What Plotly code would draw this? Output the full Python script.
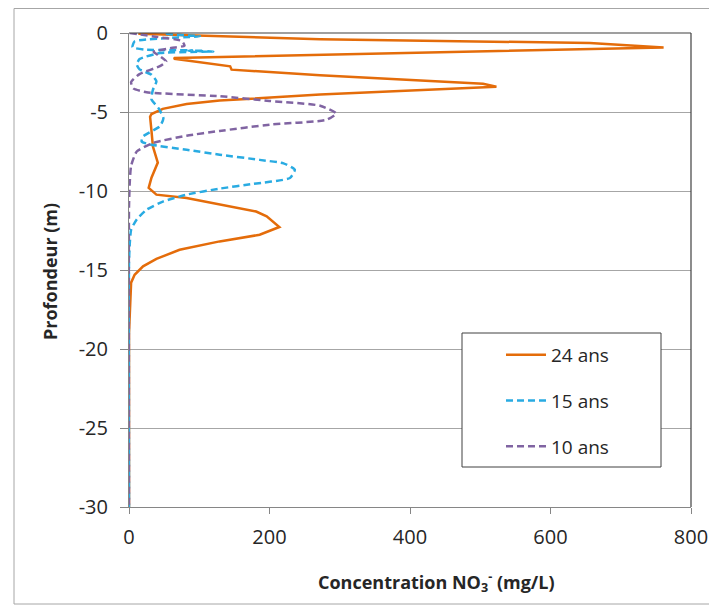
import plotly.graph_objects as go

# ---- data (concentration mg/L vs depth m) ----
depth_24 = [0, -0.05, -0.4, -0.57, -0.63, -0.91, -1.12, -1.37, -1.58, -1.63, -2.11, -2.32, -2.68, -3.21, -3.4,
            -3.9, -4.28, -4.5, -4.8, -5.13, -5.3, -6.2, -7.18, -8.2, -9.16, -9.8, -10.23, -10.44, -10.87, -11.3,
            -11.6, -12.28, -12.77, -13.19, -13.72, -14.3, -14.77, -15.3, -15.8, -17.0, -18.0, -19.0, -30]
conc_24 = [15, 15, 272, 556, 656, 761, 556, 272, 65, 64, 144, 146, 272, 504, 523,
           272, 129, 82, 48, 32, 30, 32, 34, 41, 32, 28, 39, 82, 129, 181,
           196, 214, 186, 129, 72, 39, 20, 8, 3, 1.5, 0.5, 0, 0]

depth_15 = [0, -0.06, -0.2, -0.53, -0.9, -1.05, -1.08, -1.1, -1.12, -1.13, -1.15, -1.17, -1.27, -1.65, -2.0,
            -2.3, -2.64, -3.06, -3.6, -4.2, -4.75, -5.4, -5.9, -6.55, -6.87, -7.07, -7.39, -7.7, -8.03, -8.25,
            -8.65, -9.18, -9.55, -9.85, -10.23, -10.66, -11.18, -11.8, -12.45, -13.4, -14.5, -30]
conc_15 = [54, 54, 101, 8, 5, 22, 60, 90, 85, 105, 98, 120, 44, 15, 11,
           15, 32, 39, 34, 32, 42, 49, 44, 20, 18, 32, 82, 129, 186, 220,
           236, 229, 177, 129, 82, 49, 25, 11, 3, 1, 0, 0]

depth_10 = [0, -0.25, -0.5, -0.8, -0.95, -1.2, -1.5, -1.8, -2.1, -2.6, -3.1, -3.5, -3.75, -4.0, -4.3,
            -4.6, -5.1, -5.5, -5.8, -6.2, -6.5, -6.95, -7.5, -8.4, -9.5, -11.0, -30]
conc_10 = [1, 40, 75, 79, 60, 35, 45, 53, 44, 15, 3, 6, 25, 129, 200,
           272, 295, 281, 200, 129, 82, 35, 11, 3, 1, 0, 0]

series_names = ["24 ans", "15 ans", "10 ans"]
x_ticks = [0, 200, 400, 600, 800]
y_ticks = [0, -5, -10, -15, -20, -25, -30]

FONT = "Open Sans"
TXT = "#262626"

fig = go.Figure()
fig.add_trace(go.Scatter(x=conc_24, y=depth_24, mode="lines", name=series_names[0],
                         line=dict(color="#E46C0A", width=2.5), legendgroup="a"))
fig.add_trace(go.Scatter(x=conc_15, y=depth_15, mode="lines", name=series_names[1],
                         line=dict(color="#29ABE2", width=2.5, dash="7px,4px", shape="spline", smoothing=0.5),
                         legendgroup="b"))
fig.add_trace(go.Scatter(x=conc_10, y=depth_10, mode="lines", name=series_names[2],
                         line=dict(color="#8064A2", width=2.5, dash="7px,4px", shape="spline", smoothing=0.5),
                         legendgroup="c"))

# page has an 8px body margin; figure sized to end at the window edge
OFF = 8
W, H = 717 - OFF, 609 - OFF
L, R, T, B = 121, 26, 25, 102
pw, ph = W - L - R, H - T - B

def px(xpage):
    return (xpage - OFF - L) / pw

def py(ypage):
    return (H - B - (ypage - OFF)) / ph

shapes = [
    # outer chart border
    dict(type="rect", xref="paper", yref="paper", x0=px(14), x1=px(716), y0=py(604), y1=py(8.5),
         line=dict(color="#A6A6A6", width=1), layer="below"),
    # plot area top/right border
    dict(type="line", xref="paper", yref="paper", x0=0, x1=1, y0=1, y1=1, line=dict(color="#404040", width=1.2)),
    dict(type="line", xref="paper", yref="paper", x0=1, x1=1, y0=0, y1=1, line=dict(color="#404040", width=1.2)),
    # legend box
    dict(type="rect", xref="paper", yref="paper", x0=px(462), x1=px(661), y0=py(467), y1=py(333),
         line=dict(color="#404040", width=1), fillcolor="white", layer="above"),
]

fig.update_layout(
    width=W, height=H,
    margin=dict(l=L, r=R, t=T, b=B, pad=0, autoexpand=False),
    paper_bgcolor="white", plot_bgcolor="white",
    font=dict(family=FONT, size=18, color=TXT),
    shapes=shapes,
    showlegend=True,
    legend=dict(x=px(501), y=py(336), xanchor="left", yanchor="top",
                bgcolor="rgba(0,0,0,0)", borderwidth=0, tracegroupgap=18,
                font=dict(family=FONT, size=19, color=TXT), itemwidth=40),
    annotations=[
        dict(text="Concentration NO<sub>3</sub><sup>-</sup> (mg/L)", xref="paper", yref="paper",
             x=px(436), y=py(582), xanchor="center", yanchor="middle", showarrow=False,
             font=dict(family=FONT, size=18, color=TXT, weight="bold")),
        dict(text="Profondeur (m)", xref="paper", yref="paper", textangle=-90,
             x=px(50), y=py(272), xanchor="center", yanchor="middle", showarrow=False,
             font=dict(family=FONT, size=18, color=TXT, weight="bold")),
    ],
)

fig.update_xaxes(range=[0, 800], tickvals=x_ticks, ticktext=[str(v) for v in x_ticks], automargin=False,
                 showgrid=False, zeroline=False, showline=True, linecolor="#868686", linewidth=1,
                 ticks="outside", ticklen=6, tickcolor="#868686", tickfont=dict(size=20),
                 ticklabelstandoff=6)
fig.update_yaxes(range=[-30, 0], tickvals=y_ticks, ticktext=[str(v) for v in y_ticks], automargin=False,
                 showgrid=True, gridcolor="#A6A6A6", gridwidth=1, zeroline=False,
                 showline=True, linecolor="#868686", linewidth=1,
                 ticks="outside", ticklen=8, tickcolor="#868686", tickfont=dict(size=20),
                 ticklabelstandoff=8)

fig.write_html("out.html")
